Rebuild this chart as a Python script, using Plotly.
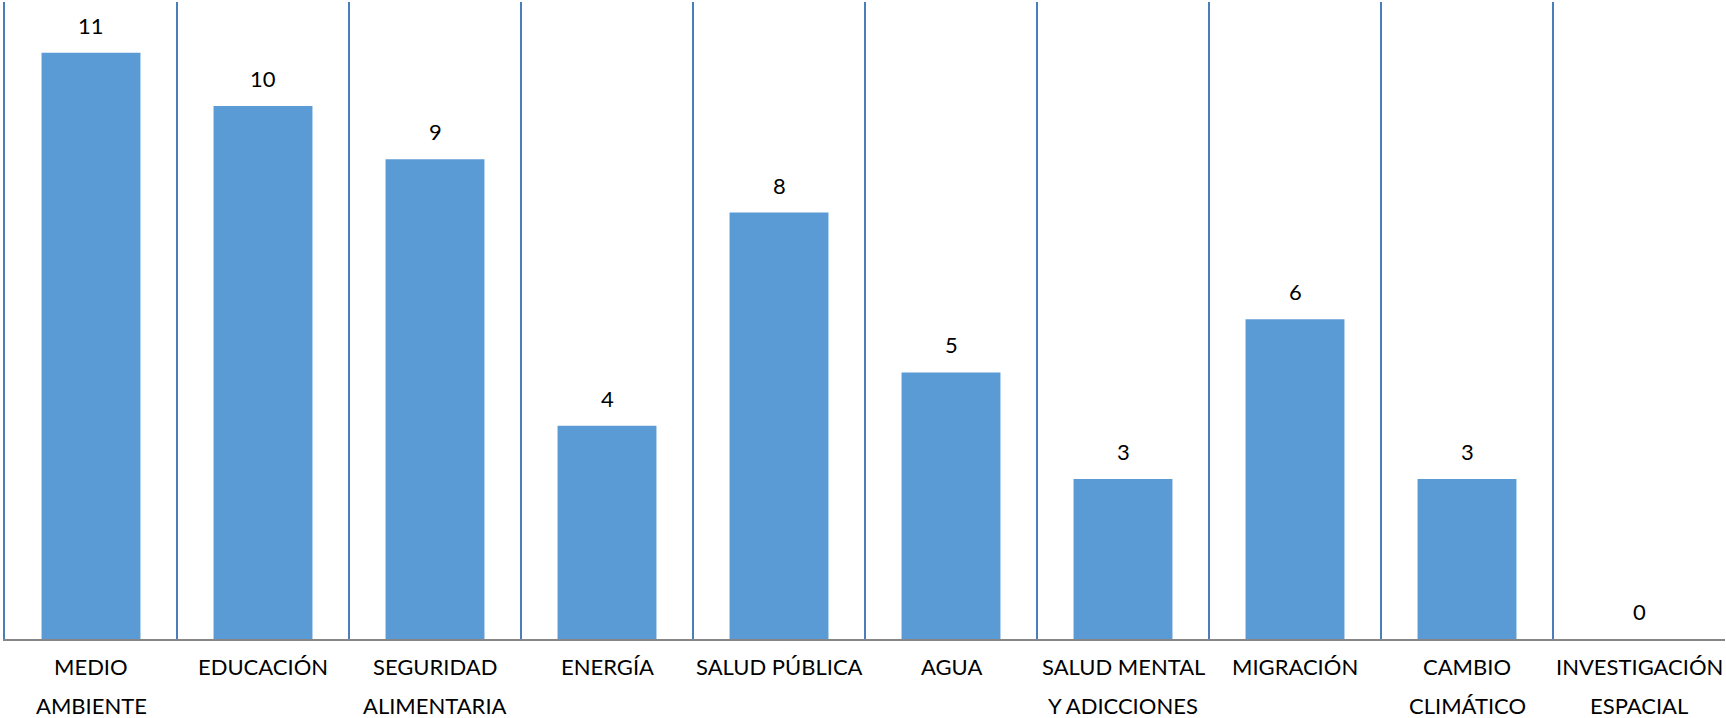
import plotly.graph_objects as go

categories = ["MEDIO AMBIENTE", "EDUCACIÓN", "SEGURIDAD ALIMENTARIA", "ENERGÍA",
              "SALUD PÚBLICA", "AGUA", "SALUD MENTAL Y ADICCIONES", "MIGRACIÓN",
              "CAMBIO CLIMÁTICO", "INVESTIGACIÓN ESPACIAL"]
label_line1 = ["MEDIO", "EDUCACIÓN", "SEGURIDAD", "ENERGÍA", "SALUD PÚBLICA", "AGUA",
               "SALUD MENTAL", "MIGRACIÓN", "CAMBIO", "INVESTIGACIÓN"]
label_line2 = ["AMBIENTE", "", "ALIMENTARIA", "", "", "", "Y ADICCIONES", "", "CLIMÁTICO", "ESPACIAL"]
values = [11, 10, 9, 4, 8, 5, 3, 6, 3, 0]

FONT = "Lato"
fsize = 22

fig = go.Figure()
fig.add_trace(go.Bar(x=categories, y=values, marker=dict(color="#5B9BD5", line=dict(width=0)),
                     width=0.575, hoverinfo="x+y"))

annotations = []
for c, v in zip(categories, values):
    annotations.append(dict(x=c, y=v, xref="x", yref="y", text=str(v), showarrow=False,
                            yanchor="bottom", yshift=12, font=dict(family=FONT, size=fsize, color="#000000")))
for c, l1, l2 in zip(categories, label_line1, label_line2):
    annotations.append(dict(x=c, y=0, xref="x", yref="paper", text=l1, showarrow=False,
                            yanchor="middle", yshift=-27, font=dict(family=FONT, size=fsize, color="#000000")))
    if l2:
        annotations.append(dict(x=c, y=0, xref="x", yref="paper", text=l2, showarrow=False,
                                yanchor="middle", yshift=-66, font=dict(family=FONT, size=fsize, color="#000000")))

fig.update_layout(
    width=1726, height=718,
    margin=dict(l=5, r=1, t=2, b=79),
    plot_bgcolor="white", paper_bgcolor="white",
    showlegend=False,
    annotations=annotations,
    xaxis=dict(type="category", range=[-0.5, 9.5], tickson="boundaries", showgrid=True,
               gridcolor="#4A7EBB", gridwidth=2, showticklabels=False, ticks="",
               showline=True, linecolor="#868686", linewidth=1.5, zeroline=False),
    yaxis=dict(range=[0, 11.95], showgrid=False, showticklabels=False, zeroline=False,
               showline=True, linecolor="#4A7EBB", linewidth=2),
)
fig.write_html("out.html", config={"displayModeBar": False},
               post_script="document.body.style.margin='0';document.body.style.overflow='hidden';")
